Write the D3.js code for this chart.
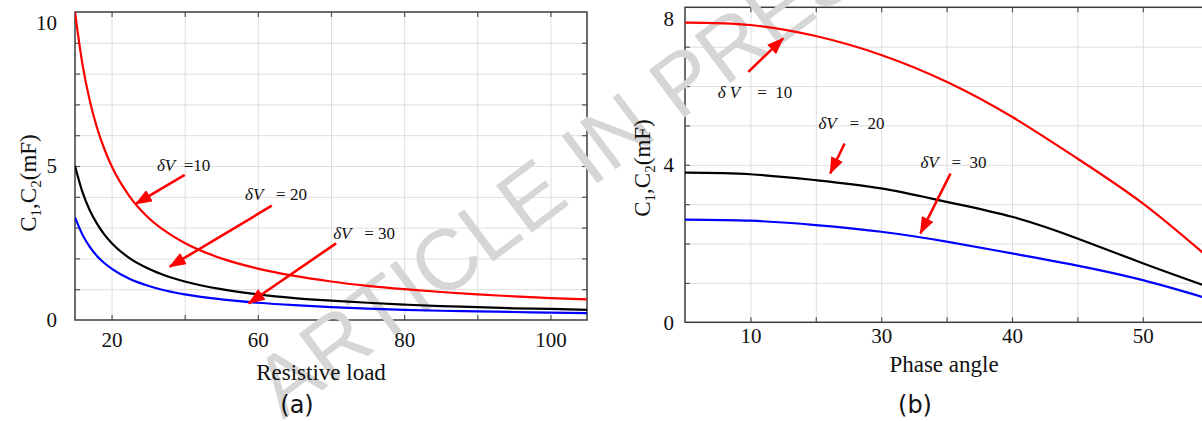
<!DOCTYPE html>
<html>
<head>
<meta charset="utf-8">
<script src="https://cdn.jsdelivr.net/npm/d3@7"></script>
<style>
  body { margin: 0; background: #fff; }
  svg { display: block; }
  text { white-space: pre; }
</style>
</head>
<body>
<svg id="chart"></svg>
<script>

/* (a) C1,C2 over resistive load */
var loadR  = [10, 12, 14, 16, 18, 20, 25, 30, 35, 40, 50, 60, 70, 80, 90, 100, 110, 120, 130, 140, 150];
var capA10 = [10, 8.33, 7.14, 6.25, 5.56, 5.0, 4.0, 3.33, 2.86, 2.5, 2.0, 1.67, 1.43, 1.25, 1.11, 1.0, 0.91, 0.83, 0.77, 0.71, 0.67];
var capA20 = [5.0, 4.17, 3.57, 3.13, 2.78, 2.5, 2.0, 1.67, 1.43, 1.25, 1.0, 0.83, 0.71, 0.63, 0.56, 0.5, 0.45, 0.42, 0.38, 0.36, 0.33];
var capA30 = [3.33, 2.78, 2.38, 2.08, 1.85, 1.67, 1.33, 1.11, 0.95, 0.83, 0.67, 0.56, 0.48, 0.42, 0.37, 0.33, 0.30, 0.28, 0.26, 0.24, 0.22];
var xTicksA = [20, 60, 100, 140];
var xTickLabelsA = ["20", "60", "80", "100"];
var yTicksA = [0, 5, 10];

/* (b) C1,C2 over phase angle */
var phase  = [15, 20, 25, 30, 35, 40, 45, 50, 55];
var capB10 = [7.61, 7.55, 7.27, 6.79, 6.11, 5.22, 4.16, 3.02, 1.65];
var capB20 = [3.80, 3.76, 3.61, 3.40, 3.06, 2.68, 2.13, 1.50, 0.90];
var capB30 = [2.61, 2.58, 2.47, 2.30, 2.05, 1.75, 1.44, 1.07, 0.60];
var xTicksB = [20, 30, 40, 50];
var xTickLabelsB = ["10", "30", "40", "50"];
var yTicksB = [0, 4, 8];

var seriesColors = ["#ff0000", "#000000", "#0000ff"];

/* annotations: symbol, rest of label, text anchor (x,y), arrow from (x,y) to (x,y) - data units */
var notesA = [
  ["δV", "  =10",   32.4, 4.85, 40.0, 4.71, 26.6, 3.77],
  ["δV", "   = 20", 56.5, 3.90, 63.8, 3.71, 35.9, 1.73],
  ["δV", "   = 30", 80.6, 2.62, 81.4, 2.49, 57.5, 0.54]
];
var notesB = [
  ["δ V", "    =  10", 17.5, 5.69, 19.84, 6.36, 22.5, 7.21],
  ["δV",  "   =  20",  25.2, 4.92, 27.2, 4.54, 26.1, 3.78],
  ["δV",  "   =  30",  33.0, 3.91, 35.3, 3.78, 33.0, 2.26]
];

var W = 1202, H = 421;
var serif = "'Liberation Serif', 'Times New Roman', serif";

var svg = d3.select("#chart").attr("width", W).attr("height", H);
svg.append("rect").attr("width", W).attr("height", H).attr("fill", "#fff");

var defs = svg.append("defs");
defs.append("marker")
  .attr("id", "head")
  .attr("markerUnits", "userSpaceOnUse")
  .attr("markerWidth", 17).attr("markerHeight", 13)
  .attr("refX", 16).attr("refY", 6.5)
  .attr("orient", "auto")
  .append("path")
  .attr("d", "M0,0 L17,6.5 L0,13 Z")
  .attr("fill", "#ff0000");

var gridLayer = svg.append("g");
var markLayer = svg.append("g");

// two panels
var panelA = {
  id: "a", left: 75, right: 587, top: 12, bottom: 320,
  xDomain: [10, 150], yDomain: [0, 10],
  gridX: d3.range(20, 150, 20), gridY: d3.range(1, 10),
  xTicks: xTicksA, xLabels: xTickLabelsA, yTicks: yTicksA,
  xs: loadR, ys: [capA10, capA20, capA30], notes: notesA,
  curve: d3.curveMonotoneX,
  xPad: 12, yPad: 18,
  xTitle: "Resistive load", xTitleX: 321, xTitleY: 380,
  yTitleX: 36, yTitleY: 183, tag: "(a)", tagX: 297
};
var panelB = {
  id: "b", left: 685, right: 1208.2, top: 7.3, bottom: 322.3,
  xDomain: [15, 55], yDomain: [0, 8],
  gridX: d3.range(20, 55, 5), gridY: d3.range(1, 8),
  xTicks: xTicksB, xLabels: xTickLabelsB, yTicks: yTicksB,
  xs: phase, ys: [capB10, capB20, capB30], notes: notesB,
  curve: d3.curveNatural,
  xPad: 6, yPad: 11,
  xTitle: "Phase angle", xTitleX: 944, xTitleY: 372,
  yTitleX: 650, yTitleY: 168, tag: "(b)", tagX: 915
};

function drawPanel(p) {
  var w = p.right - p.left, h = p.bottom - p.top;
  var x = d3.scaleLinear().domain(p.xDomain).range([p.left, p.right]);
  var y = d3.scaleLinear().domain(p.yDomain).range([p.bottom, p.top]);

  // grid
  var grid = gridLayer.append("g");
  grid.append("g")
    .attr("transform", "translate(0," + p.bottom + ")")
    .call(d3.axisBottom(x).tickValues(p.gridX).tickSize(-h).tickFormat(""));
  grid.append("g")
    .attr("transform", "translate(" + p.left + ",0)")
    .call(d3.axisLeft(y).tickValues(p.gridY).tickSize(-w).tickFormat(""));
  grid.selectAll(".domain").remove();
  grid.selectAll("line").attr("stroke", "#dedede").attr("stroke-width", 1);

  // small inward ticks on every side
  var ticks = gridLayer.append("g");
  ticks.append("g").attr("transform", "translate(0," + p.bottom + ")")
    .call(d3.axisBottom(x).tickValues(p.gridX).tickSize(-5).tickFormat(""));
  ticks.append("g").attr("transform", "translate(0," + p.top + ")")
    .call(d3.axisTop(x).tickValues(p.gridX).tickSize(-5).tickFormat(""));
  ticks.append("g").attr("transform", "translate(" + p.left + ",0)")
    .call(d3.axisLeft(y).tickValues(p.gridY).tickSize(-5).tickFormat(""));
  ticks.append("g").attr("transform", "translate(" + p.right + ",0)")
    .call(d3.axisRight(y).tickValues(p.gridY).tickSize(-5).tickFormat(""));
  ticks.selectAll(".domain").remove();
  ticks.selectAll("line").attr("stroke", "#555").attr("stroke-width", 1.2);

  gridLayer.append("rect")
    .attr("x", p.left).attr("y", p.top)
    .attr("width", w).attr("height", h)
    .attr("fill", "none").attr("stroke", "#3c3c3c").attr("stroke-width", 1.5);

  // tick labels
  var xa = markLayer.append("g")
    .attr("transform", "translate(0," + p.bottom + ")")
    .call(d3.axisBottom(x).tickValues(p.xTicks).tickSize(0).tickPadding(p.xPad)
      .tickFormat(function(d, i) { return p.xLabels[i]; }));
  var ya = markLayer.append("g")
    .attr("transform", "translate(" + p.left + ",0)")
    .call(d3.axisLeft(y).tickValues(p.yTicks).tickSize(0).tickPadding(p.yPad));
  ya.selectAll("text").filter(function(d) { return d == p.yDomain[1]; }).attr("dy", "0.85em");
  [xa, ya].forEach(function(a) {
    a.select(".domain").remove();
    a.selectAll("text").attr("font-family", serif).attr("font-size", 21).attr("fill", "#111");
  });

  // curves
  var clipId = "clip-" + p.id;
  defs.append("clipPath").attr("id", clipId).append("rect")
    .attr("x", p.left).attr("y", p.top).attr("width", w).attr("height", h);

  var line = d3.line()
    .x(function(d) { return x(d[0]); })
    .y(function(d) { return y(d[1]); })
    .curve(p.curve);

  p.ys.forEach(function(vals, k) {
    var pts = p.xs.map(function(v, i) { return [v, vals[i]]; });
    markLayer.append("path")
      .attr("clip-path", "url(#" + clipId + ")")
      .attr("d", line(pts))
      .attr("fill", "none")
      .attr("stroke", seriesColors[k])
      .attr("stroke-width", 2.2);
  });

  // delta V notes with arrows
  p.notes.forEach(function(n) {
    markLayer.append("line")
      .attr("x1", x(n[4])).attr("y1", y(n[5]))
      .attr("x2", x(n[6])).attr("y2", y(n[7]))
      .attr("stroke", "#ff0000").attr("stroke-width", 2.6)
      .attr("marker-end", "url(#head)");
    var t = markLayer.append("text")
      .attr("x", x(n[2])).attr("y", y(n[3]))
      .attr("font-family", serif).attr("font-size", 17).attr("fill", "#111");
    t.append("tspan").attr("font-style", "italic").text(n[0]);
    t.append("tspan").text(n[1]);
  });

  // axis titles
  markLayer.append("text")
    .attr("x", p.xTitleX).attr("y", p.xTitleY)
    .attr("text-anchor", "middle")
    .attr("font-family", serif).attr("font-size", 23).attr("fill", "#111")
    .text(p.xTitle);

  var yt = markLayer.append("text")
    .attr("transform", "translate(" + p.yTitleX + "," + p.yTitleY + ") rotate(-90)")
    .attr("text-anchor", "middle")
    .attr("font-family", serif).attr("font-size", 23).attr("fill", "#111");
  yt.append("tspan").text("C");
  yt.append("tspan").attr("font-size", 15).attr("dy", 5).text("1");
  yt.append("tspan").attr("dy", -5).text(",C");
  yt.append("tspan").attr("font-size", 15).attr("dy", 5).text("2");
  yt.append("tspan").attr("dy", -5).text("(mF)");

  markLayer.append("text")
    .attr("x", p.tagX).attr("y", 413)
    .attr("text-anchor", "middle")
    .attr("font-family", "'DejaVu Sans', sans-serif").attr("font-size", 24).attr("fill", "#111")
    .text(p.tag);
}

drawPanel(panelA);
drawPanel(panelB);

// watermark, sits above the grid but under the curves
gridLayer.append("text")
  .attr("transform", "translate(283,420) rotate(-37)")
  .attr("font-family", "'Liberation Sans', Arial, sans-serif")
  .attr("font-size", 86)
  .attr("fill", "#d6d6d6")
  .text("ARTICLE IN PRESS");

</script>
</body>
</html>
